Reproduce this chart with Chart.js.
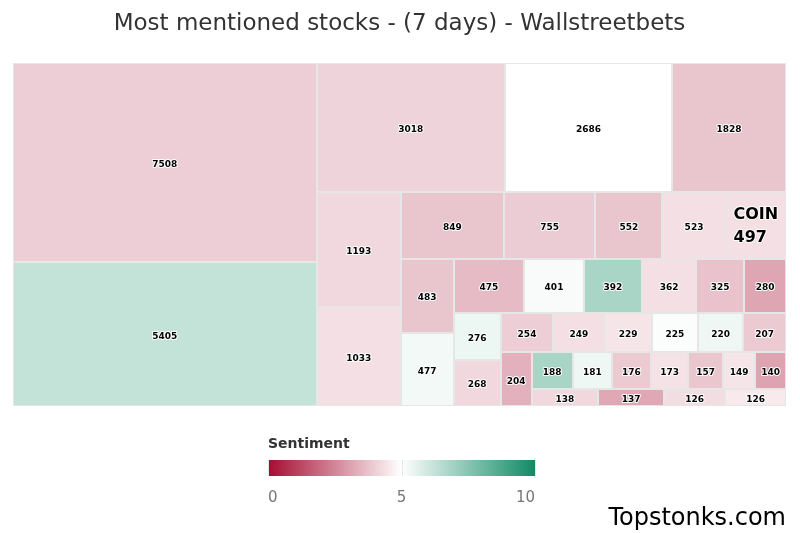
<!DOCTYPE html>
<html>
<head>
<meta charset="utf-8">
<title>Most mentioned stocks - (7 days) - Wallstreetbets</title>
<script src="https://cdn.jsdelivr.net/npm/chart.js@4/dist/chart.umd.min.js"></script>
<style>
  html, body { margin: 0; padding: 0; background: #fff; }
  #wrap { width: 800px; height: 533px; }
</style>
</head>
<body>
<div id="wrap"><canvas id="chart" width="800" height="533"></canvas></div>
<script>
'use strict';

// ── Data ─────────────────────────────────────────────────────
const titleText = 'Most mentioned stocks - (7 days) - Wallstreetbets';
const creditText = 'Topstonks.com';

// mentions per stock (cell size), largest first
const mentions = [
  7508, 5405, 3018, 2686, 1828, 1193, 1033, 849, 755, 552,
  523, 497, 483, 477, 475, 401, 392, 362, 325, 280,
  276, 268, 254, 249, 229, 225, 220, 207, 204, 188,
  181, 176, 173, 157, 149, 140, 138, 137, 126, 126
];

// sentiment 0..10 per stock (cell colour)
const sentiment = [
  4.0, 6.25, 4.1, 5.0, 3.8, 4.2, 4.35, 3.8, 3.95, 3.8,
  4.35, 4.35, 3.8, 5.25, 3.6, 5.15, 6.8, 4.35, 3.75, 3.15,
  5.4, 4.2, 4.0, 4.35, 4.45, 5.1, 5.35, 3.9, 3.4, 6.8,
  5.35, 3.9, 4.4, 3.85, 4.45, 3.1, 4.2, 3.2, 4.3, 4.55
];

// the one cell that shows its ticker
const highlightIndex = 11;
const highlightName = 'COIN';

const legendTitle = 'Sentiment';
const legendTicks = [0, 5, 10];

// ── Colour axis ──────────────────────────────────────────────
const FONT = "'DejaVu Sans', Verdana, sans-serif";
const stops = [
  [0, [165, 12, 48]],
  [0.5, [255, 255, 255]],
  [1, [16, 138, 100]]
];

function colorFor(v) {
  const p = Math.max(0, Math.min(1, v / 10));
  for (let i = 1; i < stops.length; i++) {
    if (p <= stops[i][0]) {
      const [p0, c0] = stops[i - 1], [p1, c1] = stops[i];
      const t = (p - p0) / (p1 - p0);
      const c = c0.map((a, k) => Math.round(a + (c1[k] - a) * t));
      return `rgb(${c[0]},${c[1]},${c[2]})`;
    }
  }
  return 'rgb(16,138,100)';
}

// ── Squarified layout (alternating column / row groups) ──────
function squarify(vals, width, height) {
  const total = vals.reduce((a, b) => a + b, 0);
  const k = width * height / total;
  const ratio = (w, h) => Math.max(w / h, h / w);
  const rects = [];
  let x = 0, y = 0, w = width, h = height, dir = 0, i = 0;
  while (i < vals.length) {
    const side = dir === 0 ? h : w;
    const group = [vals[i] * k];
    let sum = group[0];
    let j = i + 1;
    while (j < vals.length) {
      const last = group[group.length - 1];
      const a = vals[j] * k;
      const tOld = sum / side, tNew = (sum + a) / side;
      if (ratio(tNew, last / tNew) > ratio(tOld, last / tOld)) break;
      group.push(a);
      sum += a;
      j++;
    }
    const thick = sum / side;
    let off = 0;
    group.forEach(a => {
      const len = a / thick;
      if (dir === 0) rects.push({ x0: x, y0: y + off, x1: x + thick, y1: y + off + len });
      else rects.push({ x0: x + off, y0: y, x1: x + off + len, y1: y + thick });
      off += len;
    });
    if (dir === 0) { x += thick; w -= thick; } else { y += thick; h -= thick; }
    dir = 1 - dir;
    i = j;
  }
  return rects;
}

// ── Treemap + colour legend plugin ───────────────────────────
const treemapPlugin = {
  id: 'treemap',
  beforeDatasetsDraw(chart) {
    const { ctx, chartArea, scales: { x: sx, y: sy } } = chart;
    const aspect = chartArea.width / chartArea.height;
    // lay out in (aspect x 1) units, then map to the 0..1 scales
    const rects = squarify(mentions, aspect, 1);

    ctx.save();
    rects.forEach((r, i) => {
      const px0 = Math.round(sx.getPixelForValue(r.x0 / aspect));
      const px1 = Math.round(sx.getPixelForValue(r.x1 / aspect));
      const py0 = Math.round(sy.getPixelForValue(r.y0));
      const py1 = Math.round(sy.getPixelForValue(r.y1));
      ctx.fillStyle = colorFor(sentiment[i]);
      ctx.fillRect(px0, py0, px1 - px0, py1 - py0);
      ctx.strokeStyle = '#e6e6e6';
      ctx.lineWidth = 1;
      ctx.strokeRect(px0 + 0.5, py0 + 0.5, px1 - px0 - 1, py1 - py0 - 1);
    });

    ctx.textBaseline = 'middle';
    ctx.lineJoin = 'round';
    rects.forEach((r, i) => {
      const cx = sx.getPixelForValue((r.x0 + r.x1) / 2 / aspect);
      const cy = sy.getPixelForValue((r.y0 + r.y1) / 2) + 2;
      ctx.fillStyle = '#000';
      ctx.strokeStyle = '#fff';
      ctx.lineWidth = 2;
      if (i === highlightIndex) {
        ctx.font = `bold 16px ${FONT}`;
        ctx.textAlign = 'left';
        const lines = [highlightName, String(mentions[i])];
        const wMax = Math.max(...lines.map(s => ctx.measureText(s).width));
        const lx = cx - wMax / 2;
        lines.forEach((s, n) => {
          const ly = cy - 1 + (n - 0.5) * 23;
          ctx.strokeText(s, lx, ly);
          ctx.fillText(s, lx, ly);
        });
      } else {
        ctx.font = `bold 9px ${FONT}`;
        ctx.textAlign = 'center';
        ctx.strokeText(String(mentions[i]), cx, cy);
        ctx.fillText(String(mentions[i]), cx, cy);
      }
    });
    ctx.restore();
  },
  afterDraw(chart) {
    const { ctx } = chart;
    const lx0 = 268, lx1 = 535, barTop = 460, barH = 16;
    const lo = legendTicks[0], hi = legendTicks[legendTicks.length - 1];
    const xFor = v => lx0 + (v - lo) / (hi - lo) * (lx1 - lx0);

    ctx.save();
    ctx.fillStyle = '#333';
    ctx.font = `bold 14px ${FONT}`;
    ctx.textAlign = 'left';
    ctx.textBaseline = 'alphabetic';
    ctx.fillText(legendTitle, lx0, 448);

    const grad = ctx.createLinearGradient(lx0, 0, lx1, 0);
    stops.forEach(([p, c]) => grad.addColorStop(p, `rgb(${c[0]},${c[1]},${c[2]})`));
    ctx.fillStyle = grad;
    ctx.fillRect(lx0, barTop, lx1 - lx0, barH);

    ctx.strokeStyle = '#e6e6e6';
    ctx.lineWidth = 1;
    legendTicks.forEach(v => {
      const gx = Math.round(xFor(v)) + 0.5;
      ctx.beginPath();
      ctx.moveTo(gx, barTop);
      ctx.lineTo(gx, barTop + barH);
      ctx.stroke();
    });

    ctx.fillStyle = '#777';
    ctx.font = `15px ${FONT}`;
    legendTicks.forEach((v, n) => {
      ctx.textAlign = n === 0 ? 'left' : n === legendTicks.length - 1 ? 'right' : 'center';
      ctx.fillText(String(v), xFor(v), 502);
    });
    ctx.restore();
  }
};

// ── Chart ────────────────────────────────────────────────────
const ctx = document.getElementById('chart').getContext('2d');
new Chart(ctx, {
  type: 'scatter',
  data: { datasets: [{ data: [] }] },
  options: {
    responsive: false,
    animation: false,
    devicePixelRatio: 1,
    layout: { padding: { left: 13, right: 14, top: 0, bottom: 0 } },
    scales: {
      x: { type: 'linear', min: 0, max: 1, display: false },
      y: { type: 'linear', min: 0, max: 1, reverse: true, display: false }
    },
    plugins: {
      legend: { display: false },
      tooltip: { enabled: false },
      title: {
        display: true,
        text: titleText,
        color: '#333',
        font: { family: FONT, size: 23, weight: 'normal' },
        padding: { top: 10, bottom: 25.4 }
      },
      subtitle: {
        display: true,
        text: creditText,
        position: 'bottom',
        align: 'end',
        color: '#000',
        font: { family: FONT, size: 24, weight: 'normal' },
        padding: { top: 98.2, bottom: 0 }
      }
    }
  },
  plugins: [treemapPlugin]
});
</script>
</body>
</html>
